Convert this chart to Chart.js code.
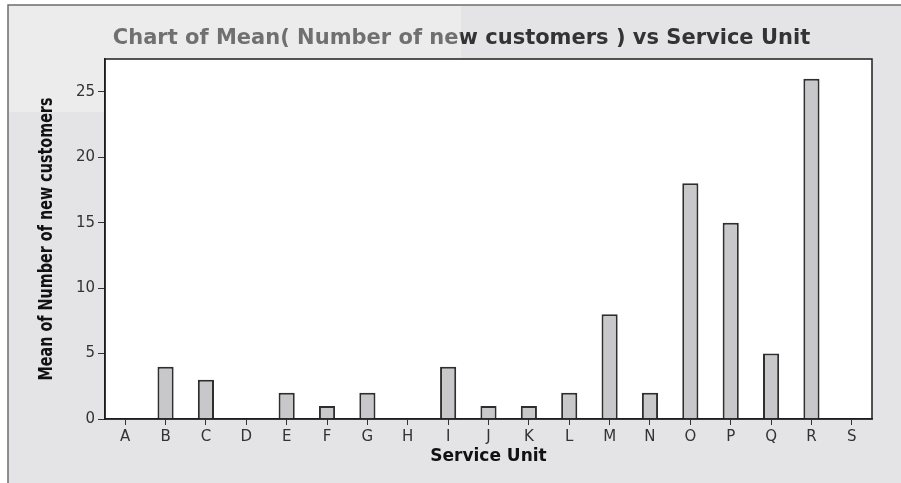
<!DOCTYPE html>
<html>
<head>
<meta charset="utf-8">
<script src="https://cdn.jsdelivr.net/npm/chart.js@4"></script>
<style>
  html, body { margin: 0; padding: 0; background: #fff; }
  #wrap { width: 901px; height: 483px; }
</style>
</head>
<body>
<div id="wrap"><canvas id="meanChart" width="901" height="483"></canvas></div>
<script>
// values
const units = ['A', 'B', 'C', 'D', 'E', 'F', 'G', 'H', 'I', 'J', 'K', 'L', 'M', 'N', 'O', 'P', 'Q', 'R', 'S'];
const meanNewCustomers = [0, 4, 3, 0, 2, 1, 2, 0, 4, 1, 1, 2, 8, 2, 18, 15, 5, 26, 0];
const yTicks = [0, 5, 10, 15, 20, 25];

const chartTitle = 'Chart of Mean( Number of new customers ) vs Service Unit';
const xTitle = 'Service Unit';
const yTitle = 'Mean of Number of new customers';

// panel background, titles and plot frame
const minitabFrame = {
    id: 'minitabFrame',
    beforeDraw(chart) {
        const { ctx, chartArea } = chart;
        const w = chart.width, h = chart.height;
        ctx.save();
        ctx.fillStyle = '#ffffff';
        ctx.fillRect(0, 0, w, h);
        ctx.fillStyle = '#e4e4e6';
        ctx.fillRect(8, 5, w - 8, h - 5);
        ctx.strokeStyle = '#6e6e6e';
        ctx.lineWidth = 1.5;
        ctx.beginPath();
        ctx.moveTo(8, h);
        ctx.lineTo(8, 5);
        ctx.lineTo(w, 5);
        ctx.stroke();

        ctx.fillStyle = '#333333';
        ctx.font = "bold 21px 'DejaVu Sans', sans-serif";
        ctx.textAlign = 'center';
        ctx.textBaseline = 'alphabetic';
        ctx.fillText(chartTitle, 461.5, 44);

        // faded band over the top-left corner
        ctx.fillStyle = 'rgba(255, 255, 255, 0.3)';
        ctx.fillRect(9, 6, 452, 106);

        ctx.fillStyle = '#ffffff';
        ctx.fillRect(chartArea.left, chartArea.top, chartArea.right - chartArea.left, chartArea.bottom - chartArea.top);
        ctx.restore();
    },
    afterDatasetsDraw(chart) {
        const { ctx, chartArea } = chart;
        ctx.save();
        ctx.strokeStyle = '#1e1e1e';
        ctx.lineWidth = 1.5;
        ctx.strokeRect(chartArea.left, chartArea.top, chartArea.right - chartArea.left, chartArea.bottom - chartArea.top);

        // narrow bold y title, squeezed to the reference length
        ctx.font = "bold 20px 'DejaVu Sans Condensed', 'DejaVu Sans', sans-serif";
        const sx = 283 / ctx.measureText(yTitle).width;
        ctx.translate(52, (chartArea.top + chartArea.bottom) / 2);
        ctx.rotate(-Math.PI / 2);
        ctx.scale(sx, 1);
        ctx.fillStyle = '#111111';
        ctx.textAlign = 'center';
        ctx.textBaseline = 'alphabetic';
        ctx.fillText(yTitle, 0, 0);
        ctx.restore();
    }
};

new Chart(document.getElementById('meanChart'), {
    type: 'bar',
    data: {
        labels: units,
        datasets: [{
            label: 'Mean',
            data: meanNewCustomers,
            backgroundColor: '#c8c8ca',
            borderColor: '#2e2e2e',
            borderWidth: 2,
            categoryPercentage: 1,
            barPercentage: 0.4
        }]
    },
    plugins: [minitabFrame],
    options: {
        responsive: false,
        animation: false,
        layout: {
            padding: { top: 59, right: 29, left: 0, bottom: 0 }
        },
        plugins: {
            legend: { display: false },
            title: { display: false },
            tooltip: { enabled: false }
        },
        scales: {
            x: {
                afterFit(scale) { scale.height = 64; },
                grid: {
                    offset: false,
                    drawOnChartArea: false,
                    tickLength: 6,
                    color: '#333333'
                },
                border: { display: true, color: '#1e1e1e', width: 1.5 },
                ticks: {
                    color: '#333333',
                    padding: 3,
                    font: { family: "'DejaVu Sans', sans-serif", size: 15 }
                },
                title: {
                    display: true,
                    text: xTitle,
                    color: '#111111',
                    padding: { top: 0, bottom: 16 },
                    font: { family: "'DejaVu Sans', sans-serif", size: 17, weight: 'bold' }
                }
            },
            y: {
                min: 0,
                max: 27.5,
                afterFit(scale) { scale.width = 105; },
                afterBuildTicks(scale) {
                    scale.ticks = yTicks.map(v => ({ value: v }));
                },
                grid: {
                    drawOnChartArea: false,
                    tickLength: 7,
                    color: '#333333'
                },
                border: { display: true, color: '#1e1e1e', width: 1.5 },
                ticks: {
                    color: '#333333',
                    padding: 3,
                    font: { family: "'DejaVu Sans', sans-serif", size: 15 }
                },
                title: { display: false }
            }
        }
    }
});
</script>
</body>
</html>
